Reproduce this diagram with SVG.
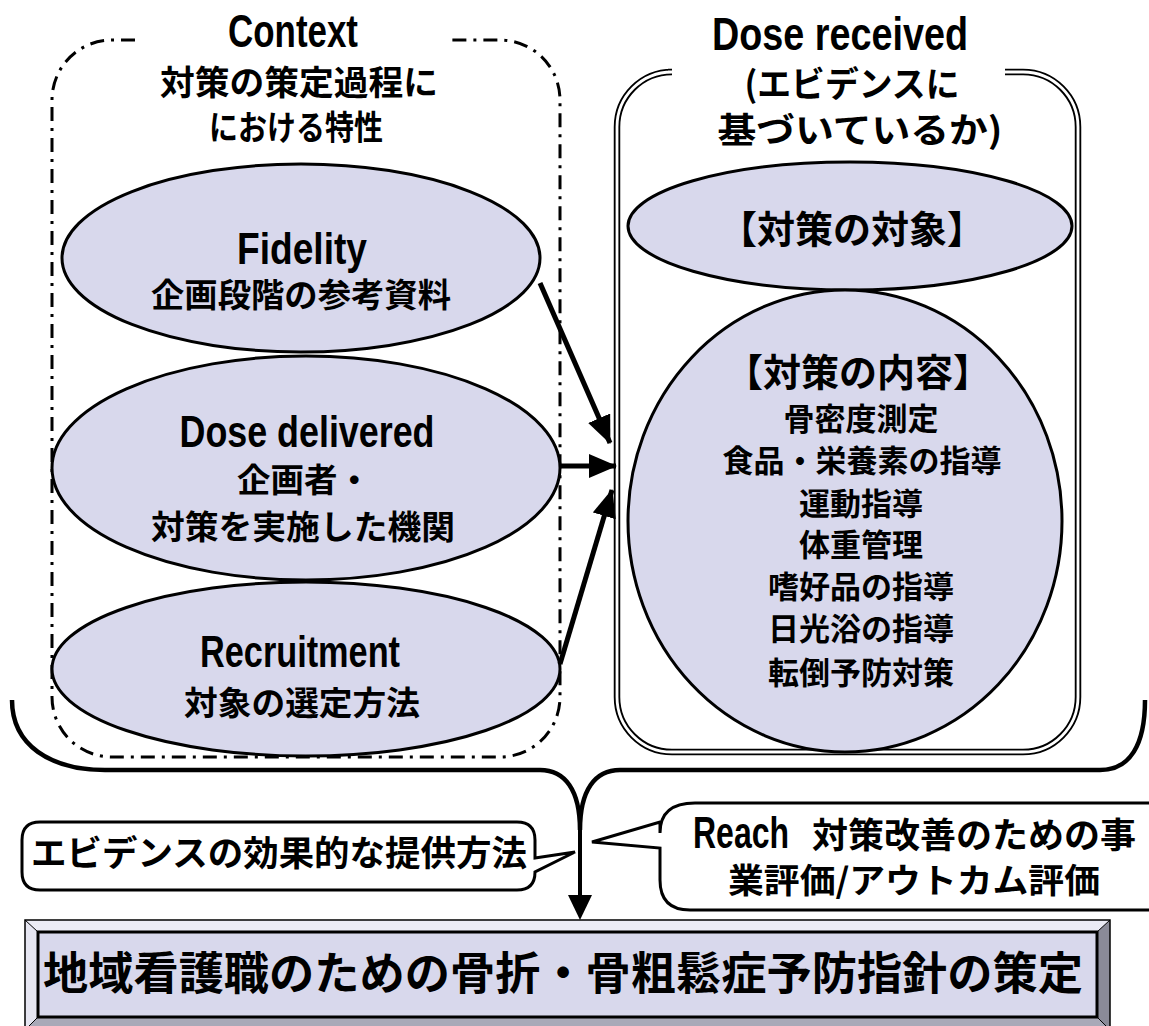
<svg xmlns="http://www.w3.org/2000/svg" width="1149" height="1026" viewBox="0 0 1149 1026">
<defs>
<style>
.jp{font-family:"Noto Sans CJK JP","Liberation Sans",sans-serif;font-weight:bold;fill:#000;text-anchor:middle}
.en{font-family:"Liberation Sans","Noto Sans CJK JP",sans-serif;font-weight:bold;fill:#000;text-anchor:middle}
.st{text-anchor:start}
.node{fill:#d8d8ec;stroke:#000;stroke-width:3}
.conn{stroke:#000;stroke-width:5;fill:none}
</style>
<marker id="ah" markerWidth="28" markerHeight="24" refX="27" refY="12" orient="auto" markerUnits="userSpaceOnUse" viewBox="0 0 28 24">
<path d="M0,0 L28,12 L0,24 z" fill="#000"/>
</marker>
</defs>
<rect width="1149" height="1026" fill="#fff"/>

<g id="context-group">
<path d="M135,40 H112 A60,60 0 0 0 52,100 V697 A60,60 0 0 0 112,757 H500 A60,60 0 0 0 560,697 V100 A60,60 0 0 0 500,40 H452" fill="none" stroke="#000" stroke-width="3" stroke-dasharray="14,7,3,7"/>
<text class="en" x="293" y="47" font-size="46" textLength="130" lengthAdjust="spacingAndGlyphs">Context</text>
<text class="jp" x="299" y="95" font-size="34" textLength="278" lengthAdjust="spacingAndGlyphs">対策の策定過程に</text>
<text class="jp" x="296" y="140" font-size="34" textLength="174" lengthAdjust="spacingAndGlyphs">における特性</text>
</g>

<g id="dose-received-group">
<path d="M668,72 H672 A55,55 0 0 0 617,127 V697 A55,55 0 0 0 672,752 H1023 A55,55 0 0 0 1078,697 V127 A55,55 0 0 0 1023,72 H1005" fill="none" stroke="#000" stroke-width="6.5"/>
<path d="M668,72 H672 A55,55 0 0 0 617,127 V697 A55,55 0 0 0 672,752 H1023 A55,55 0 0 0 1078,697 V127 A55,55 0 0 0 1023,72 H1005" fill="none" stroke="#fff" stroke-width="2.8"/>
<text class="en" x="840" y="50" font-size="46" textLength="256" lengthAdjust="spacingAndGlyphs">Dose received</text>
<text class="jp" x="852" y="97" font-size="35" textLength="215" lengthAdjust="spacingAndGlyphs">(エビデンスに</text>
<text class="jp" x="860" y="143" font-size="35" textLength="285" lengthAdjust="spacingAndGlyphs">基づいているか)</text>
</g>

<g id="fidelity">
<ellipse class="node" cx="301" cy="258" rx="239" ry="94"/>
<text class="en" x="302" y="264" font-size="45" textLength="130" lengthAdjust="spacingAndGlyphs">Fidelity</text>
<text class="jp" x="301" y="307" font-size="33" textLength="300" lengthAdjust="spacingAndGlyphs">企画段階の参考資料</text>
</g>

<g id="dose-delivered">
<ellipse class="node" cx="306" cy="468" rx="254" ry="112"/>
<text class="en" x="307" y="447" font-size="45" textLength="255" lengthAdjust="spacingAndGlyphs">Dose delivered</text>
<text class="jp" x="304" y="492" font-size="33" textLength="134" lengthAdjust="spacingAndGlyphs">企画者・</text>
<text class="jp" x="303" y="539" font-size="33" textLength="304" lengthAdjust="spacingAndGlyphs">対策を実施した機関</text>
</g>

<g id="recruitment">
<ellipse class="node" cx="306" cy="669" rx="254" ry="87"/>
<text class="en" x="300" y="667" font-size="45" textLength="200" lengthAdjust="spacingAndGlyphs">Recruitment</text>
<text class="jp" x="302" y="715" font-size="33" textLength="236" lengthAdjust="spacingAndGlyphs">対象の選定方法</text>
</g>

<g id="target">
<ellipse class="node" cx="850" cy="226" rx="222" ry="64"/>
<text class="jp" x="852" y="243" font-size="38">【対策の対象】</text>
</g>

<g id="content">
<ellipse class="node" cx="845" cy="521" rx="217" ry="231"/>
<text class="jp" x="858" y="386" font-size="38">【対策の内容】</text>
<text class="jp" x="861" y="430" font-size="31">骨密度測定</text>
<text class="jp" x="862" y="472" font-size="31">食品・栄養素の指導</text>
<text class="jp" x="861" y="515" font-size="31">運動指導</text>
<text class="jp" x="861" y="556" font-size="31">体重管理</text>
<text class="jp" x="861" y="598" font-size="31">嗜好品の指導</text>
<text class="jp" x="861" y="640" font-size="31">日光浴の指導</text>
<text class="jp" x="861" y="684" font-size="31">転倒予防対策</text>
</g>

<g id="connectors">
<line class="conn" x1="540" y1="283" x2="610" y2="443" marker-end="url(#ah)"/>
<line class="conn" x1="560" y1="466" x2="616" y2="466" marker-end="url(#ah)"/>
<line class="conn" x1="560" y1="664" x2="612" y2="490" marker-end="url(#ah)"/>
<path d="M12,700 C12,745 50,770 105,770 L540,770 C565,770 580,790 580,830 C580,790 595,770 620,770 L1100,770 C1130,770 1145,745 1145,700" fill="none" stroke="#000" stroke-width="4.5"/>
<line x1="580" y1="828" x2="580" y2="898" stroke="#000" stroke-width="4"/>
<path d="M568,895 L592,895 L580,920 Z" fill="#000"/>
</g>

<g id="callout-left">
<path d="M40,822 H517 Q535,822 535,840 V858 L575,852 L535,872 Q535,890 517,890 H40 Q22,890 22,872 V840 Q22,822 40,822 Z" fill="#fff" stroke="#000" stroke-width="3"/>
<text class="jp" x="279" y="866" font-size="35" textLength="496" lengthAdjust="spacingAndGlyphs">エビデンスの効果的な提供方法</text>
</g>

<g id="callout-right">
<path d="M695,803 H1170 V910 H690 Q660,910 660,880 V848 L592,842 L660,822 V833 Q660,803 695,803 Z" fill="#fff" stroke="#000" stroke-width="3"/>
<text class="en st" x="693" y="848" font-size="44" textLength="96" lengthAdjust="spacingAndGlyphs">Reach</text>
<text class="jp st" x="812" y="848" font-size="35" textLength="324" lengthAdjust="spacingAndGlyphs">対策改善のための事</text>
<text class="jp" x="914" y="893" font-size="34" textLength="372" lengthAdjust="spacingAndGlyphs">業評価/アウトカム評価</text>
</g>

<g id="goal">
<rect x="25" y="920" width="1085" height="112" fill="#d8d8ec"/>
<polygon points="25,920 1110,920 1097,932 38,932" fill="#ebebf5"/>
<polygon points="25,920 38,932 38,1017 25,1030" fill="#e6e6f2"/>
<polygon points="1110,920 1097,932 1097,1017 1110,1030" fill="#8a8a98"/>
<polygon points="38,1017 1097,1017 1110,1030 25,1030" fill="#a9a9b8"/>
<rect x="25" y="920" width="1085" height="112" fill="none" stroke="#000" stroke-width="1.5"/>
<rect x="38" y="932" width="1059" height="85" fill="none" stroke="#000" stroke-width="3"/>
<line x1="25" y1="920" x2="38" y2="932" stroke="#000" stroke-width="1"/>
<line x1="1110" y1="920" x2="1097" y2="932" stroke="#000" stroke-width="1"/>
<line x1="25" y1="1030" x2="38" y2="1017" stroke="#000" stroke-width="1"/>
<line x1="1110" y1="1030" x2="1097" y2="1017" stroke="#000" stroke-width="1"/>
<text class="jp" x="563" y="990" font-size="45" textLength="1040" lengthAdjust="spacingAndGlyphs">地域看護職のための骨折・骨粗鬆症予防指針の策定</text>
</g>
</svg>
